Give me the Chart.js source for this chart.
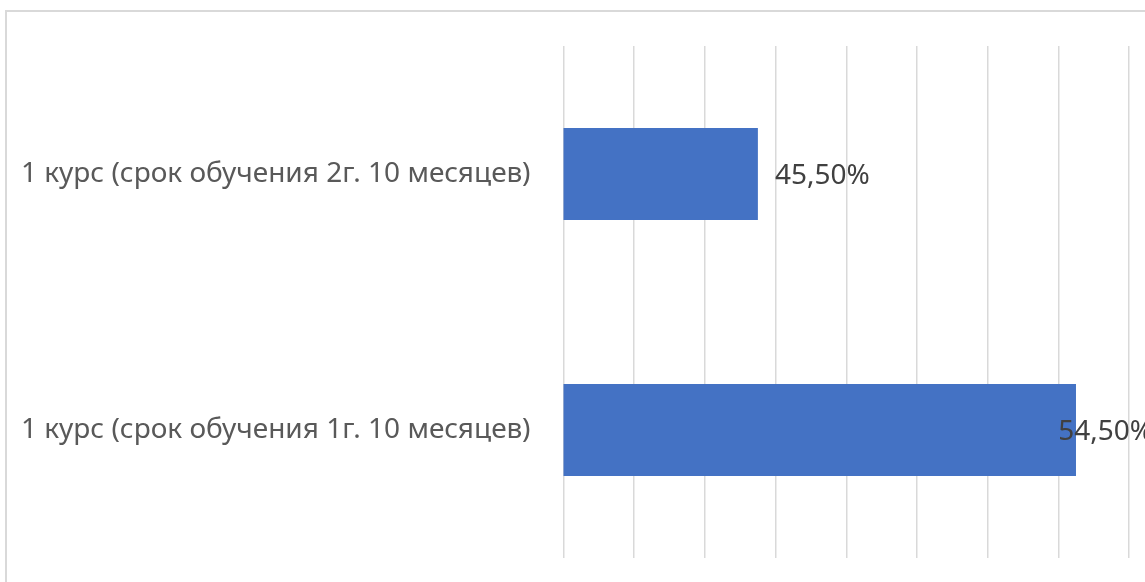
<!DOCTYPE html>
<html>
<head>
<meta charset="utf-8">
<script src="https://cdn.jsdelivr.net/npm/chart.js@4/dist/chart.umd.min.js"></script>
<style>
  html, body { margin: 0; padding: 0; background: #fff; overflow: hidden; }
  #frame { position: absolute; left: 5px; top: 10px; width: 1300px; height: 700px; border: 2px solid #d9d9d9; box-sizing: border-box; }
  #wrap { position: absolute; left: 0; top: 0; width: 1145px; height: 582px; }
</style>
</head>
<body>
<div id="frame"></div>
<div id="wrap"><canvas id="c"></canvas></div>
<script>
const categories = [
  "1 курс (срок обучения 2г. 10 месяцев)",
  "1 курс (срок обучения 1г. 10 месяцев)"
];
const values = [45.5, 54.5];
const axisMin = 40;
const axisMax = 56;
const axisStep = 2;

const FONT = "'Noto Sans', 'Open Sans', sans-serif";

const labelPlugin = {
  id: 'barLabels',
  afterDatasetsDraw(chart) {
    const ctx = chart.ctx;
    const meta = chart.getDatasetMeta(0);
    ctx.save();
    ctx.font = "28px " + FONT;
    ctx.fillStyle = '#404040';
    ctx.textBaseline = 'middle';
    ctx.textAlign = 'left';
    meta.data.forEach((bar, i) => {
      const txt = values[i].toFixed(2).replace('.', ',') + '%';
      const w = ctx.measureText(txt).width;
      const x = Math.min(bar.x + 17, chart.width - w + 8);
      ctx.fillText(txt, x, bar.y + 2);
    });
    ctx.restore();
  }
};

new Chart(document.getElementById('c'), {
  type: 'bar',
  data: {
    labels: categories,
    datasets: [{
      data: values,
      backgroundColor: '#4472C4',
      borderWidth: 0,
      barPercentage: 0.36,
      categoryPercentage: 1.0
    }]
  },
  options: {
    indexAxis: 'y',
    responsive: true,
    maintainAspectRatio: false,
    animation: false,
    layout: { padding: { left: 0, top: 46, right: 16, bottom: 24 } },
    plugins: { legend: { display: false }, tooltip: { enabled: false } },
    scales: {
      x: {
        min: axisMin,
        max: axisMax,
        ticks: { display: false, stepSize: axisStep },
        grid: { color: '#d9d9d9', lineWidth: 1.5, drawTicks: false },
        border: { display: false },
        afterFit(scale) { scale.height = 0; scale.paddingLeft = 0; scale.paddingRight = 0; }
      },
      y: {
        grid: { display: false, drawTicks: false },
        border: { display: false },
        ticks: { color: '#595959', font: { size: 28, family: FONT }, padding: 33 },
        afterFit(scale) { scale.width = 563.5; scale.paddingTop = 0; scale.paddingBottom = 0; }
      }
    }
  },
  plugins: [labelPlugin]
});
</script>
</body>
</html>
